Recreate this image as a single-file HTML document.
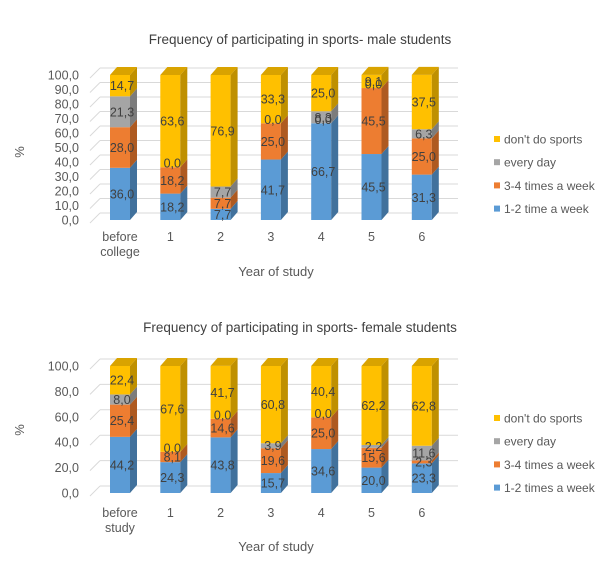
<!DOCTYPE html>
<html><head><meta charset="utf-8">
<style>
body{margin:0;background:#fff;font-family:"Liberation Sans",sans-serif;}
svg text{font-family:"Liberation Sans",sans-serif;}
</style></head>
<body>
<svg id="svg" width="600" height="574" xmlns="http://www.w3.org/2000/svg"></svg>
<script>
const categoriesMale = ["before|college","1","2","3","4","5","6"];
const maleOneTwo = [36.0,18.2,7.7,41.7,66.7,45.5,31.3];
const maleThreeFour = [28.0,18.2,7.7,25.0,0.0,45.5,25.0];
const maleEveryDay = [21.3,0.0,7.7,0.0,8.3,0.0,6.3];
const maleNoSports = [14.7,63.6,76.9,33.3,25.0,9.1,37.5];
const maleTicks = [0,10,20,30,40,50,60,70,80,90,100];
const categoriesFemale = ["before|study","1","2","3","4","5","6"];
const femaleOneTwo = [44.2,24.3,43.8,15.7,34.6,20.0,23.3];
const femaleThreeFour = [25.4,8.1,14.6,19.6,25.0,15.6,2.3];
const femaleEveryDay = [8.0,0.0,0.0,3.9,0.0,2.2,11.6];
const femaleNoSports = [22.4,67.6,41.7,60.8,40.4,62.2,62.8];
const femaleTicks = [0,20,40,60,80,100];

const NS="http://www.w3.org/2000/svg";
const svg=document.getElementById('svg');
function mk(tag,attrs,parent,name){const e=document.createElementNS(NS,tag);for(const k in attrs)e.setAttribute(k,attrs[k]);


(parent||svg).appendChild(e);return e;}
const front=["#5B9BD5","#ED7D31","#A5A5A5","#FFC000"];
const side=["#41719C","#AE5A21","#7C7C7C","#BF9000"];
const top_=["#7DAEDD","#F19A5E","#BDBDBD","#D9A300"];
const fmt=v=>v.toFixed(1).replace('.',',');

function chart(o){
  const g=mk('g',{},svg,o.name);
  const y=v=>o.y0-v/100*o.h;
  const dx=7,dy=-8;
  mk('text',{x:300,y:o.titleY,'text-anchor':'middle','font-size':13.5,fill:'#404040'},g,'chart-title').textContent=o.title;
  o.ticks.forEach(t=>{
    mk('line',{x1:90,y1:y(t)+3,x2:100,y2:y(t)+dy+1,stroke:'#d9d9d9','stroke-width':1},g,'gridline-slant');
    mk('line',{x1:100,y1:y(t)+dy+1,x2:458,y2:y(t)+dy+1,stroke:'#d9d9d9','stroke-width':1},g,'gridline');
    mk('text',{x:79,y:y(t)+4.5,'text-anchor':'end','font-size':12.5,fill:'#595959'},g,'y-tick-label').textContent=fmt(t);
  });
  mk('text',{x:24,y:o.pctY,'text-anchor':'middle','font-size':13,fill:'#595959',transform:`rotate(-90 24 ${o.pctY})`},g,'y-axis-title').textContent='%';
  const series=o.series;
  o.cats.forEach((c,i)=>{
    const x=110+i*50.3,w=20;
    let acc=0;
    series.forEach((s,k)=>{
      const v=s[i];const yb=y(acc),yt=y(acc+v);
      if(v>0){
        mk('rect',{x:x,y:yt,width:w,height:yb-yt,fill:front[k]},g,'bar-segment');
        mk('polygon',{points:`${x+w},${yb} ${x+w+dx},${yb+dy} ${x+w+dx},${yt+dy} ${x+w},${yt}`,fill:side[k]},g,'bar-side');
      }
      acc+=v;
    });
    let a2=0,lastK=0;series.forEach((s,k)=>{a2+=s[i];if(s[i]>0)lastK=k;});
    const yt=y(a2);
    mk('polygon',{points:`${x},${yt} ${x+dx},${yt+dy} ${x+w+dx},${yt+dy} ${x+w},${yt}`,fill:top_[lastK]},g,'bar-top');
    acc=0;
    series.forEach((s,k)=>{
      const v=s[i];const ym=y(acc+v/2)-(v===0?4:0);
      mk('text',{x:x+w/2+2,y:ym+4.5,'text-anchor':'middle','font-size':12.5,fill:'#404040'},g,'data-label').textContent=fmt(v);
      acc+=v;
    });
    const parts=c.split('|');
    parts.forEach((p,j)=>{
      mk('text',{x:x+w/2,y:o.catY+j*15,'text-anchor':'middle','font-size':12.5,fill:'#595959'},g,'x-tick-label').textContent=p;
    });
  });
  mk('text',{x:276,y:o.axisY,'text-anchor':'middle','font-size':13,fill:'#595959'},g,'x-axis-title').textContent='Year of study';
  o.legend.forEach((t,j)=>{
    const ly=o.legY+j*23.2;
    mk('rect',{x:494,y:ly-4,width:6,height:6,fill:front[3-j]},g,'legend-swatch');
    mk('text',{x:504,y:ly+3.5,'font-size':12,fill:'#595959'},g,'legend-entry').textContent=t;
  });
}
chart({name:'male-chart',title:'Frequency of participating in sports- male students',titleY:44,y0:220,h:145,ticks:maleTicks,pctY:152,
  cats:categoriesMale,series:[maleOneTwo,maleThreeFour,maleEveryDay,maleNoSports],catY:241,axisY:276,
  legend:["don't do sports","every day","3-4 times a week","1-2 time a week"],legY:140});
chart({name:'female-chart',title:'Frequency of participating in sports- female students',titleY:332,y0:493,h:127,ticks:femaleTicks,pctY:430,
  cats:categoriesFemale,series:[femaleOneTwo,femaleThreeFour,femaleEveryDay,femaleNoSports],catY:517,axisY:551,
  legend:["don't do sports","every day","3-4 times a week","1-2 times a week"],legY:419});
</script>
</body></html>
